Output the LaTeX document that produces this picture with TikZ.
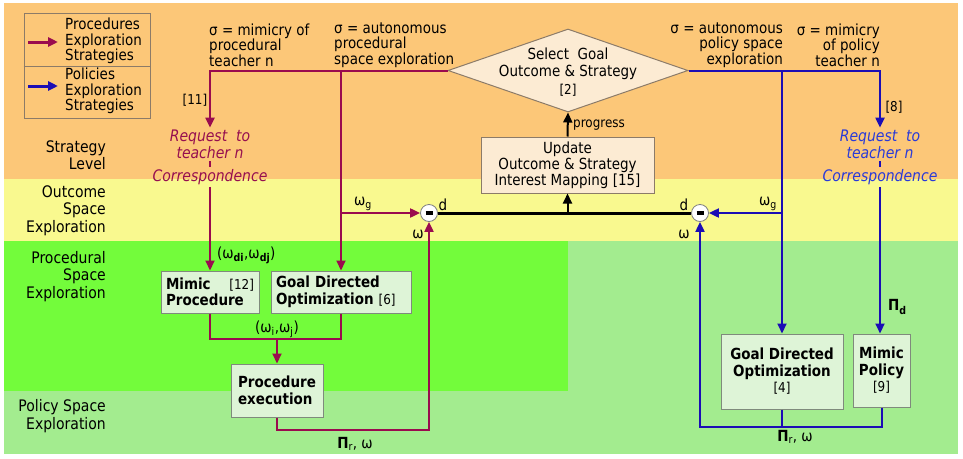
\documentclass[tikz,border=0pt]{standalone}
\usepackage{fontspec}
\setmainfont{DejaVu Sans}[FakeStretch=0.88]
\usetikzlibrary{arrows.meta,calc,shapes.geometric}
\definecolor{bgO}{HTML}{FCC778}
\definecolor{bgY}{HTML}{F9F98F}
\definecolor{bgG}{HTML}{73FC3B}
\definecolor{bgLG}{HTML}{A3EC8F}
\definecolor{boxF}{HTML}{DEF4D7}
\definecolor{boxB}{HTML}{7F8A7C}
\definecolor{pchF}{HTML}{FCEBD3}
\definecolor{pchB}{HTML}{8C7B68}
\definecolor{cP}{HTML}{9A0B4E}
\definecolor{cB}{HTML}{1B0DB5}
\definecolor{tP}{HTML}{960F4F}
\definecolor{tB}{HTML}{2A3AD8}
\tikzset{
  every node/.style={inner sep=0pt, font=\fontsize{15.3}{15.5}\selectfont},
  pl/.style={draw=cP, line width=2pt},
  bl/.style={draw=cB, line width=2pt},
  kl/.style={draw=black, line width=2pt},
  gbox/.style={draw=boxB, fill=boxF, line width=1pt, font=\fontsize{15.3}{16.5}\selectfont},
  pbox/.style={draw=pchB, fill=pchF, line width=1pt, font=\fontsize{15.3}{16}\selectfont},
  sidelab/.style={anchor=east, align=right, font=\fontsize{15.9}{17.3}\selectfont},
  siglab/.style={align=left, font=\fontsize{15.3}{15.5}\selectfont},
  small/.style={font=\fontsize{13.6}{14}\selectfont},
  reqP/.style={text=tP, align=center, font=\fontsize{15.9}{17.5}\selectfont\itshape, inner sep=2pt},
  reqB/.style={text=tB, align=center, font=\fontsize{15.9}{17.5}\selectfont\itshape, inner sep=2pt},
  minus/.style={circle, draw=gray, fill=white, line width=0.8pt, minimum size=17pt, inner sep=0pt},
  >={Triangle[length=10pt,width=9pt]}
}
\begin{document}
\begin{tikzpicture}[x=1pt,y=-1pt]
\useasboundingbox (0,0) rectangle (963,458);
% backgrounds
\fill[white] (0,0) rectangle (963,458);
\fill[bgO] (4,3) rectangle (958,179);
\fill[bgY] (4,179) rectangle (958,241);
\fill[bgLG] (4,241) rectangle (958,454);
\fill[bgG] (4,241) rectangle (568,391);

% legend
\node[draw=pchB, line width=0.8pt, minimum width=126pt, minimum height=105pt] (leg) at (87,65.5) {};
\draw[pchB, line width=0.8pt] (leg.west |- 0,66) -- (leg.east |- 0,66);
\coordinate (lgP1) at (28,42); \coordinate (lgP2) at (58,42);
\coordinate (lgB1) at (28,86); \coordinate (lgB2) at (58,86);
\draw[pl,line width=3pt,->] (lgP1) -- (lgP2);
\draw[bl,line width=3pt,->] (lgB1) -- (lgB2);
\node[siglab, anchor=west] (legP) at (65,41) {Procedures\\Exploration\\Strategies};
\node[siglab, anchor=west] (legB) at (65,91) {Policies\\Exploration\\Strategies};

% side labels
\node[sidelab] (lStr) at (106,155) {Strategy\\Level};
\node[sidelab] (lOut) at (106,210.5) {Outcome\\Space\\Exploration};
\node[sidelab] (lPro) at (106,276.5) {Procedural\\Space\\Exploration};
\node[sidelab] (lPol) at (106,416) {Policy Space\\Exploration};

% sigma labels
\node[siglab, anchor=west] (sg1) at (209,45) {σ = mimicry of\\procedural\\teacher n};
\node[siglab, anchor=west] (sg2) at (334,45) {σ = autonomous\\procedural\\space exploration};
\node[siglab, anchor=east, align=right] (sg3) at (783,45) {σ = autonomous\\policy space\\exploration};
\node[siglab, anchor=east, align=right] (sg4) at (880,45) {σ = mimicry\\of policy\\teacher n};

% diamond
\node[diamond, draw=pchB, fill=pchF, line width=1pt, minimum width=240pt, minimum height=83pt] (sel) at (568,70.5) {};
\node[align=center, font=\fontsize{15.3}{17.5}\selectfont] (selT) at (568,72) {Select~ Goal\\Outcome \& Strategy\\{\fontsize{13.6}{14}\selectfont[2]}};

% update box
\node[pbox, minimum width=173pt, minimum height=56pt, align=center] (upd) at (567.5,165) {\raisebox{-3pt}{\parbox{170pt}{\centering Update\\Outcome \& Strategy\\Interest Mapping [15]}}};
\node[small, anchor=west] (prog) at (573,125) {progress};

% requests
\node[reqP] (rqP) at (210,144.5) {Request~ to\\teacher n};
\node[reqP] (coP) at (210,177) {Correspondence};
\node[reqB] (rqB) at (880,144.5) {Request~ to\\teacher n};
\node[reqB] (coB) at (880,177) {Correspondence};
\node[small] (n11) at (195,100) {[11]};
\node[small] (n8) at (894,107) {[8]};

% boxes
\node[gbox, minimum width=98pt, minimum height=42pt, text width=88pt, align=left] (mimP) at (210,292) {\textbf{Mimic}\hfill{\fontsize{13.6}{14}\selectfont[12]}\\\textbf{Procedure}};
\node[gbox, minimum width=140pt, minimum height=42pt, text width=130pt, align=left] (gdo6) at (341,292) {\textbf{Goal Directed}\\\textbf{Optimization} {\fontsize{13.6}{14}\selectfont[6]}};
\node[gbox, minimum width=92pt, minimum height=53pt, align=left] (pex) at (277,390.5) {\textbf{Procedure}\\\textbf{execution}};
\node[gbox, minimum width=122pt, minimum height=75pt, align=center] (gdo4) at (782,371.5) {\textbf{Goal Directed}\\\textbf{Optimization}\\{\fontsize{13.6}{14}\selectfont[4]}};
\node[gbox, minimum width=57pt, minimum height=73pt, align=center] (mpol) at (881.5,370.5) {\textbf{Mimic}\\\textbf{Policy}\\{\fontsize{13.6}{14}\selectfont[9]}};

% minus circles
\node[minus] (mL) at (429,213) {\rule[-1.6pt]{7pt}{3.2pt}};
\node[minus] (mR) at (700,213) {\rule[-1.6pt]{7pt}{3.2pt}};

% connector labels
\node (wgL) at (363,204) {ω\textsubscript{g}};
\node (wgR) at (768,204) {ω\textsubscript{g}};
\node (dL) at (443,205) {d};
\node (dR) at (684,205) {d};
\node (wL) at (418,234) {ω};
\node (wR) at (684,234) {ω};
\node[anchor=west] (wdij) at (217,255) {(ω\textsubscript{\textbf{di}},ω\textsubscript{\textbf{dj}})};
\node (wij) at (277,329) {(ω\textsubscript{i},ω\textsubscript{j})};
\node (prwL) at (355,444) {\textbf{Π}\textsubscript{r}, ω};
\node (prwR) at (795,437) {\textbf{Π}\textsubscript{r}, ω};
\node[anchor=west] (pid) at (888,307) {\textbf{Π\textsubscript{d}}};

% coordinates
\coordinate (brP) at (341,70.5);
\coordinate (brB) at (782,70.5);
\coordinate (jP) at (277,339);
\coordinate (bP) at (429,430);
\coordinate (bB) at (782,427);

% purple connectors
\draw[pl,->] (sel.west) -| (rqP.north);
\draw[pl,->] (brP) -- (gdo6.north);
\draw[pl,->] (brP |- mL) -- (mL.west);
\draw[pl] (rqP.south) -- (coP.north);
\draw[pl,->] (coP.south) -- (mimP.north);
\draw[pl] (mimP.south) -- (mimP.south |- jP) -- (gdo6.south |- jP) -- (gdo6.south);
\draw[pl,->] (jP) -- (pex.north);
\draw[pl,->] (pex.south) |- (bP) -- (mL.south);

% blue connectors
\draw[bl,->] (sel.east) -| (rqB.north);
\draw[bl,->] (brB) -- (gdo4.north);
\draw[bl,->] (brB |- mR) -- (mR.east);
\draw[bl] (rqB.south) -- (coB.north);
\draw[bl,->] (coB.south) -- (coB.south |- mpol.north);
\draw[bl] (gdo4.south) -- (bB);
\draw[bl,->] (mpol.south) -- (mpol.south |- bB) -- (mR |- bB) -- (mR.south);

% black connectors
\draw[draw=black, line width=3pt] (mL.east) -- (mR.west);
\draw[kl,->] (upd.south |- mL) -- (upd.south);
\draw[kl,->] (upd.north) -- (sel.south);
\end{tikzpicture}
\end{document}
